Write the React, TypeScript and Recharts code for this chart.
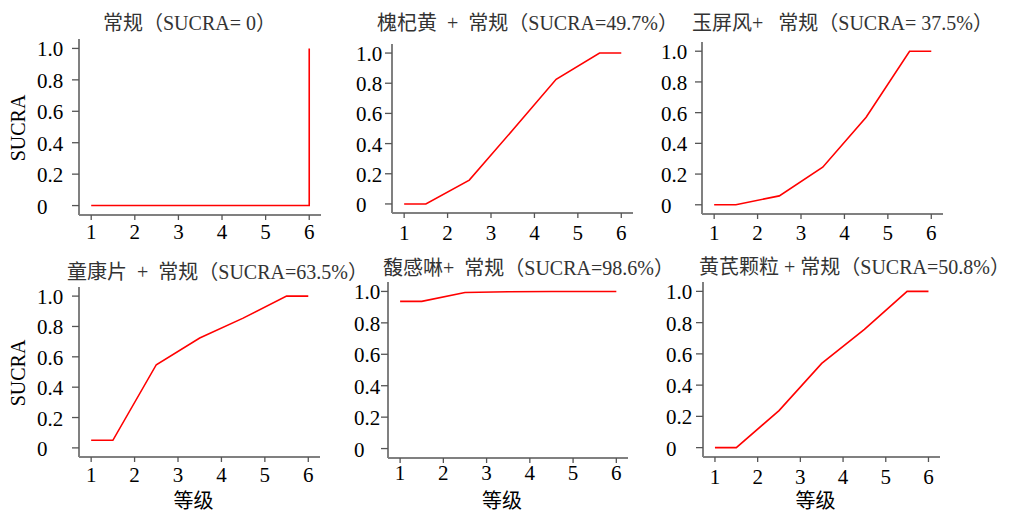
import React from 'react';
import { LineChart, Line, XAxis, YAxis } from 'recharts';

// ---- data ----
const rankX = [1, 1.5, 2.5, 3.5, 4.5, 5.5, 6];
const conventionalX = [1, 1.5, 2.5, 3.5, 4.5, 5.5, 6, 6];
const conventionalY = [0, 0, 0, 0, 0, 0, 0, 1];
const huaiqihuangY = [0, 0, 0.158, 0.49, 0.826, 1, 1];
const yupingfengY = [0, 0, 0.058, 0.245, 0.57, 1, 1];
const tongkangpianY = [0.05, 0.05, 0.548, 0.724, 0.855, 1, 1];
const fuganlinY = [0.937, 0.937, 0.993, 0.998, 1, 1, 1];
const huangqiY = [0, 0, 0.237, 0.539, 0.757, 1, 1];

const xTicks = [1, 2, 3, 4, 5, 6];
const yTicks = [0, 0.2, 0.4, 0.6, 0.8, 1];
const yTickLabels = ['0', '0.2', '0.4', '0.6', '0.8', '1.0'];

const titles = [
  '常规（SUCRA= 0）',
  '槐杞黄  +  常规（SUCRA=49.7%）',
  '玉屏风+   常规（SUCRA= 37.5%）',
  '童康片  +  常规（SUCRA=63.5%）',
  '馥感啉+  常规（SUCRA=98.6%）',
  '黄芪颗粒 + 常规（SUCRA=50.8%）',
];
const yAxisTitle = 'SUCRA';
const xAxisTitle = '等级';

// ---- layout ----
const panels = [
  { xs: conventionalX, ys: conventionalY, l: 79, r: 321, t: 39, b: 215, labelDx: -42, xGap: 10, tx: 103, ty: 30, yLabel: true, xLabel: false },
  { xs: rankX, ys: huaiqihuangY, l: 392, r: 633, t: 44, b: 213, labelDx: -36, xGap: 13, tx: 377, ty: 30, yLabel: false, xLabel: false },
  { xs: rankX, ys: yupingfengY, l: 702, r: 943, t: 42, b: 214, labelDx: -41, xGap: 12, tx: 692, ty: 30, yLabel: false, xLabel: false },
  { xs: rankX, ys: tongkangpianY, l: 79, r: 320, t: 287, b: 457, labelDx: -42, xGap: 11, tx: 67, ty: 279, yLabel: true, xLabel: true },
  { xs: rankX, ys: fuganlinY, l: 388, r: 628, t: 282, b: 458, labelDx: -34, xGap: 8, tx: 383, ty: 275, yLabel: false, xLabel: true },
  { xs: rankX, ys: huangqiY, l: 703, r: 940, t: 282, b: 457, labelDx: -37, xGap: 13, tx: 699, ty: 274, yLabel: false, xLabel: true },
];

const SERIF = '"Liberation Serif", "Times New Roman", serif';
const TITLE_FONT = '"Liberation Serif", "Noto Sans CJK SC", serif';
const AXIS_W = 60;
const TOP_M = 10;
const TICK_FS = 21;

function Panel({ p }: { p: any }) {
  const data = p.xs.map((x: number, i: number) => ({ x, y: p.ys[i] }));
  const width = p.r - p.l + AXIS_W + 5;
  const height = p.b - p.t + TOP_M + 40;
  const renderYTick = (props: any) => {
    const idx = yTicks.indexOf(props.payload.value);
    return (
      <text x={AXIS_W + p.labelDx} y={props.y} dy="0.38em" textAnchor="start" fill="#000" fontSize={TICK_FS} fontFamily={SERIF}>
        {yTickLabels[idx]}
      </text>
    );
  };
  return (
    <div style={{ position: 'absolute', left: p.l - AXIS_W, top: p.t - TOP_M }}>
      <LineChart width={width} height={height} data={data} margin={{ top: TOP_M, right: 5, bottom: 0, left: 0 }}>
        <XAxis
          type="number"
          dataKey="x"
          domain={[0.72, 6.27]}
          ticks={xTicks}
          allowDataOverflow
          height={40}
          tickSize={5}
          tickMargin={p.xGap - 6}
          axisLine={{ stroke: '#808080', strokeWidth: 2 }}
          tickLine={{ stroke: '#555', strokeWidth: 1.3 }}
          tick={{ fill: '#000', fontSize: TICK_FS, fontFamily: SERIF }}
        />
        <YAxis
          type="number"
          domain={[-0.06, 1.06]}
          ticks={yTicks}
          allowDataOverflow
          width={AXIS_W}
          tickSize={7}
          tickMargin={0}
          axisLine={{ stroke: '#808080', strokeWidth: 2 }}
          tickLine={{ stroke: '#555', strokeWidth: 1.3 }}
          tick={renderYTick}
        />
        <Line type="linear" dataKey="y" stroke="#ff0000" strokeWidth={1.6} dot={false} isAnimationActive={false} />
      </LineChart>
    </div>
  );
}

export default function App() {
  return (
    <div style={{ position: 'absolute', left: 0, top: 0, width: 1009, height: 511, background: '#fff', overflow: 'hidden' }}>
      {panels.map((p, i) => (
        <Panel key={i} p={p} />
      ))}
      <svg width={1009} height={511} style={{ position: 'absolute', left: 0, top: 0, pointerEvents: 'none' }}>
        {panels.map((p, i) => (
          <text key={'t' + i} x={p.tx} y={p.ty} fontSize={20} fill="#333" fontFamily={TITLE_FONT} style={{ whiteSpace: 'pre' }}>
            {titles[i]}
          </text>
        ))}
        {panels.map((p, i) =>
          p.yLabel ? (
            <text key={'y' + i} x={0} y={0} transform={`translate(18, ${(p.t + p.b) / 2 + 1}) rotate(-90)`} textAnchor="middle" dominantBaseline="central" fontSize={20} fill="#000" fontFamily={SERIF}>
              {yAxisTitle}
            </text>
          ) : null
        )}
        {panels.map((p, i) =>
          p.xLabel ? (
            <text key={'x' + i} x={(p.l + p.r) / 2 - 6} y={508} textAnchor="middle" fontSize={20} fill="#000" fontFamily={TITLE_FONT}>
              {xAxisTitle}
            </text>
          ) : null
        )}
      </svg>
    </div>
  );
}
